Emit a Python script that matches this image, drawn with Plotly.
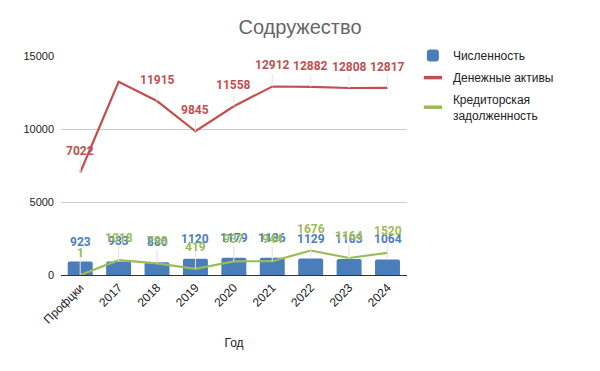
import plotly.graph_objects as go

categories = ["Профцки", "2017", "2018", "2019", "2020", "2021", "2022", "2023", "2024"]
headcount = [923, 933, 880, 1120, 1179, 1186, 1129, 1103, 1064]
money = [7022, 13240, 11915, 9845, 11558, 12912, 12882, 12808, 12817]
money_label_shown = [True, False, True, True, True, True, True, True, True]
payables = [1, 1018, 798, 419, 937, 944, 1676, 1164, 1520]

BLUE = "#4a7ebb"
RED = "#c0504d"
GREEN = "#9bbb59"

fig = go.Figure()
fig.add_trace(go.Bar(x=categories, y=headcount, name="Численность",
                     marker_color=BLUE, marker_line_width=0, marker_cornerradius=2,
                     legendgroup="a"))
fig.add_trace(go.Scatter(x=categories, y=money, name="Денежные активы",
                         mode="lines", line=dict(color=RED, width=2.2), showlegend=False))
fig.add_trace(go.Scatter(x=categories, y=payables, name="Кредиторская задолженность",
                         mode="lines", line=dict(color=GREEN, width=2.2), showlegend=False))
# legend-only entries with short line symbols
fig.add_trace(go.Scatter(x=[None], y=[None], name="Денежные активы", mode="markers",
                         marker=dict(symbol="line-ew-open", size=13, color=RED,
                                     line=dict(color=RED, width=3.5)),
                         legendgroup="b"))
fig.add_trace(go.Scatter(x=[None], y=[None], name="Кредиторская<br>задолженность",
                         mode="markers",
                         marker=dict(symbol="line-ew-open", size=13, color=GREEN,
                                     line=dict(color=GREEN, width=3.5)),
                         legendgroup="c"))

annotations = []
label_font = "Roboto, Arial, sans-serif"


def add_labels(values, color, ay, shown=None):
    for i, v in enumerate(values):
        if shown is not None and not shown[i]:
            continue
        annotations.append(dict(x=i, y=v, text=str(v), showarrow=True, arrowhead=0,
                                ax=0, ay=ay, arrowcolor="#e6e6e6", arrowwidth=1,
                                font=dict(color=color, size=12, family=label_font,
                                          weight="bold")))


add_labels(headcount, BLUE, -20)
add_labels(money, RED, -21, money_label_shown)
add_labels(payables, GREEN, -22)

fig.update_layout(
    width=600, height=371,
    margin=dict(l=61, r=193, t=56, b=96),
    paper_bgcolor="white", plot_bgcolor="white",
    font=dict(family="Liberation Sans, Arial, sans-serif", size=11, color="#222222"),
    title=dict(text="Содружество", x=0.5, xanchor="center", y=0.927, yanchor="middle",
               font=dict(size=20, color="#666666", family="Liberation Sans, Arial, sans-serif")),
    bargap=0.35,
    showlegend=True,
    legend=dict(x=1.017, xanchor="left", y=1.068, yanchor="top",
                font=dict(size=12, color="#222222"), tracegroupgap=3,
                bgcolor="rgba(0,0,0,0)"),
    annotations=annotations,
    xaxis=dict(type="category", tickangle=-45, showline=True, linecolor="#333333", linewidth=1,
               ticks="", showgrid=False, tickfont=dict(size=12, color="#222222"),
               title=dict(text="Год", font=dict(size=12, color="#222222"), standoff=13)),
    yaxis=dict(range=[0, 15000], tickvals=[0, 5000, 10000, 15000], tickformat="d",
               showgrid=True, gridcolor="#cccccc", zeroline=False,
               tickfont=dict(size=11, color="#222222"), ticks="", ticklabelstandoff=6),
)

fig.write_html("out.html", config={"displayModeBar": False},
               post_script="document.body.style.margin='0';")
